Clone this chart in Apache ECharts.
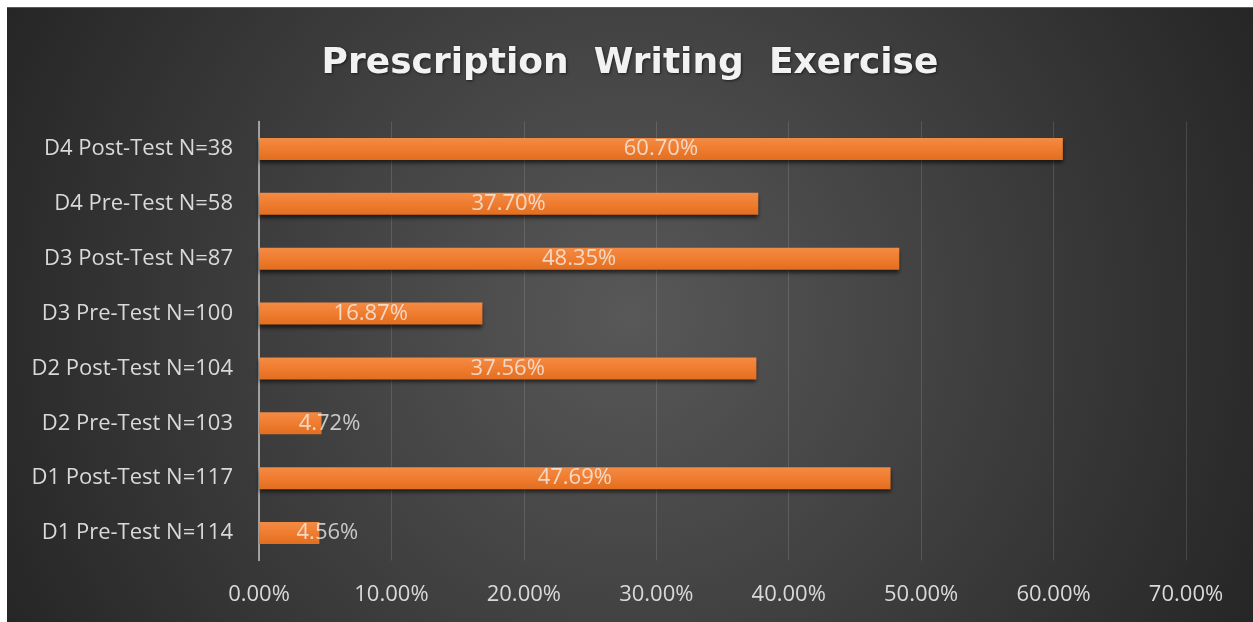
<!DOCTYPE html>
<html>
<head>
<meta charset="utf-8">
<script src="https://cdn.jsdelivr.net/npm/echarts@6/dist/echarts.min.js"></script>
<style>
  html, body { margin: 0; padding: 0; background: #ffffff; width: 1253px; height: 622px; overflow: hidden; }
  #chart { position: absolute; left: 7px; top: 7px; width: 1246px; height: 615px; border-top: 1px solid #5a5a5a; box-sizing: border-box; }
</style>
</head>
<body>
<div id="chart"></div>
<script>
const titleText = 'Prescription  Writing  Exercise';
const categories = [
  'D4 Post-Test N=38',
  'D4 Pre-Test N=58',
  'D3 Post-Test N=87',
  'D3 Pre-Test N=100',
  'D2 Post-Test N=104',
  'D2 Pre-Test N=103',
  'D1 Post-Test N=117',
  'D1 Pre-Test N=114'
];
const values = [60.70, 37.70, 48.35, 16.87, 37.56, 4.72, 47.69, 4.56];
const xMin = 0, xMax = 70, xStep = 10;

const chart = echarts.init(document.getElementById('chart'));
const labelFont = '"Open Sans", sans-serif';
chart.setOption({
  backgroundColor: {
    type: 'radial', x: 0.5, y: 0.5, r: 1.15,
    colorStops: [
      { offset: 0, color: '#585858' },
      { offset: 1, color: '#252525' }
    ]
  },
  title: {
    text: titleText,
    left: 'center',
    top: 33,
    textStyle: {
      fontFamily: '"DejaVu Sans", sans-serif',
      fontWeight: 'bold',
      fontSize: 36,
      color: '#f2f2f2',
      textShadowColor: 'rgba(0,0,0,0.55)',
      textShadowBlur: 3,
      textShadowOffsetX: 1,
      textShadowOffsetY: 1
    }
  },
  grid: { left: 252, right: 67, top: 113.5, bottom: 61.5, containLabel: false },
  xAxis: {
    type: 'value',
    min: xMin, max: xMax, interval: xStep,
    axisLine: { show: false },
    axisTick: { show: false },
    splitLine: { show: true, lineStyle: { color: 'rgba(255,255,255,0.13)', width: 1 } },
    axisLabel: {
      margin: 23,
      color: '#d9d9d9',
      fontFamily: labelFont,
      fontSize: 22,
      formatter: v => v.toFixed(2) + '%'
    }
  },
  yAxis: {
    type: 'category',
    inverse: true,
    data: categories,
    axisTick: { show: false },
    axisLine: { show: true, lineStyle: { color: '#c0c0c0', width: 1.5 } },
    splitLine: { show: false },
    axisLabel: {
      margin: 26,
      color: '#d9d9d9',
      fontFamily: labelFont,
      fontSize: 22
    }
  },
  series: [{
    type: 'bar',
    data: values,
    barWidth: '40%',
    itemStyle: {
      color: {
        type: 'linear', x: 0, y: 0, x2: 0, y2: 1,
        colorStops: [
          { offset: 0, color: '#f48b44' },
          { offset: 0.5, color: '#ef7c2f' },
          { offset: 1, color: '#e26f20' }
        ]
      },
      shadowColor: 'rgba(0,0,0,0.6)',
      shadowBlur: 4,
      shadowOffsetY: 3
    },
    label: {
      show: true,
      position: 'inside',
      color: 'rgba(245,245,245,0.75)',
      fontFamily: labelFont,
      fontSize: 22,
      formatter: p => p.value.toFixed(2) + '%'
    },
    labelLayout: function (params) {
      if (params.labelRect.width + 10 > params.rect.width) {
        return {
          x: params.rect.x + params.rect.width + 8,
          y: params.rect.y + params.rect.height / 2,
          align: 'center',
          verticalAlign: 'middle'
        };
      }
      return {};
    }
  }]
});
</script>
</body>
</html>
